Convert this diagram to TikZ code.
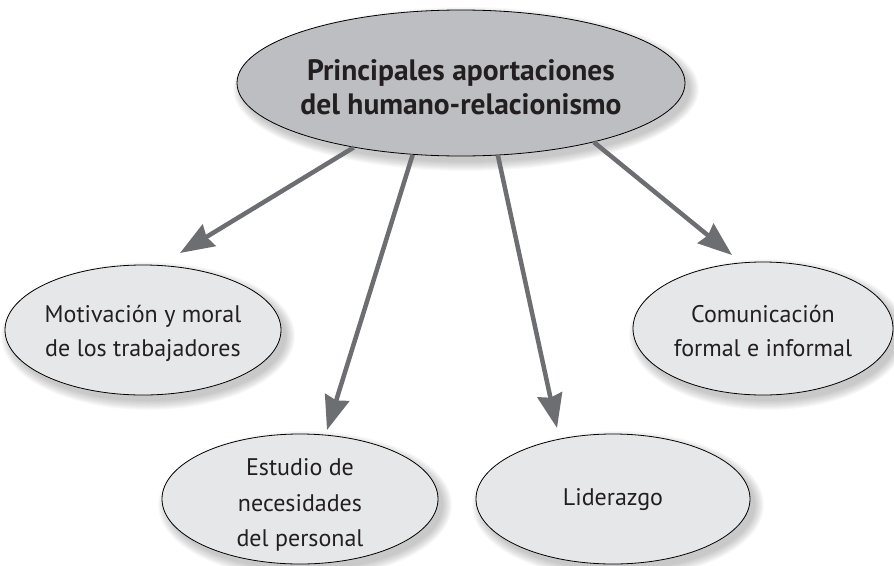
\documentclass[tikz,border=0pt]{standalone}
\usepackage{fontspec}
\setmainfont{PT Sans}
\usetikzlibrary{shapes.geometric,arrows.meta,calc}
\definecolor{topfill}{HTML}{BDBEC1}
\definecolor{subfill}{HTML}{E6E7E8}
\definecolor{arrowgray}{HTML}{6D6E71}
\definecolor{ink}{HTML}{231F20}
\newcommand\softshadow[3]{%
  \foreach \k in {0,...,9}{%
    \fill[black,opacity=0.022] ($(#1)+(5pt,-6pt)$) ellipse [x radius=#2+9pt-\k pt, y radius=#3+9pt-\k pt];
  }%
}
\tikzset{
  bubble/.style={ellipse, draw=black, line width=0.8pt, inner sep=0pt},
  topbubble/.style={bubble, fill=topfill},
  subbubble/.style={bubble, fill=subfill},
  lbl/.style={text=ink, align=center, font=\fontsize{24}{34}\selectfont},
  toplbl/.style={text=ink, align=center, font=\fontsize{29.5}{34}\selectfont\bfseries},
  link/.style={draw=arrowgray, line width=4.5pt, -{Stealth[length=34pt,width=25pt,inset=3pt]}},
}
\begin{document}
\begin{tikzpicture}[x=1pt,y=1pt]
\useasboundingbox (0,0) rectangle (894,-565);
% shadows
\softshadow{461,-83}{224}{73}
\softshadow{143,-330}{138}{65}
\softshadow{763,-328.5}{130}{66.5}
\softshadow{300,-499}{138}{65}
\softshadow{613,-499}{137}{65}
% ellipses
\node[topbubble, minimum width=448pt, minimum height=146pt] (top) at (461,-83) {};
\node[subbubble, minimum width=276pt, minimum height=130pt] (mot) at (143,-330) {};
\node[subbubble, minimum width=260pt, minimum height=133pt] (com) at (763,-328.5) {};
\node[subbubble, minimum width=276pt, minimum height=130pt] (est) at (300,-499) {};
\node[subbubble, minimum width=274pt, minimum height=130pt] (lid) at (613,-499) {};
% labels
\node[toplbl] (toptxt) at (461,-87) {Principales aportaciones\\del humano-relacionismo};
\node[lbl] (mottxt) at (143,-333) {Motivación y moral\\de los trabajadores};
\node[lbl] (comtxt) at (763,-331) {Comunicación\\formal e informal};
\node[lbl, font=\fontsize{24}{35.5}\selectfont] (esttxt) at (300,-505) {Estudio de\\necesidades\\del personal};
\node[lbl] (lidtxt) at (613,-500) {Liderazgo};
% arrow tips
\coordinate (t1) at (180,-253);
\coordinate (t2) at (327,-430);
\coordinate (t3) at (557,-428);
\coordinate (t4) at (732,-255);
\draw[link] (top.-149.3) -- (t1);
\draw[link] (top.-124.6) -- (t2);
\draw[link] (top.-63.7) -- (t3);
\draw[link] (top.-24.4) -- (t4);
\end{tikzpicture}
\end{document}
